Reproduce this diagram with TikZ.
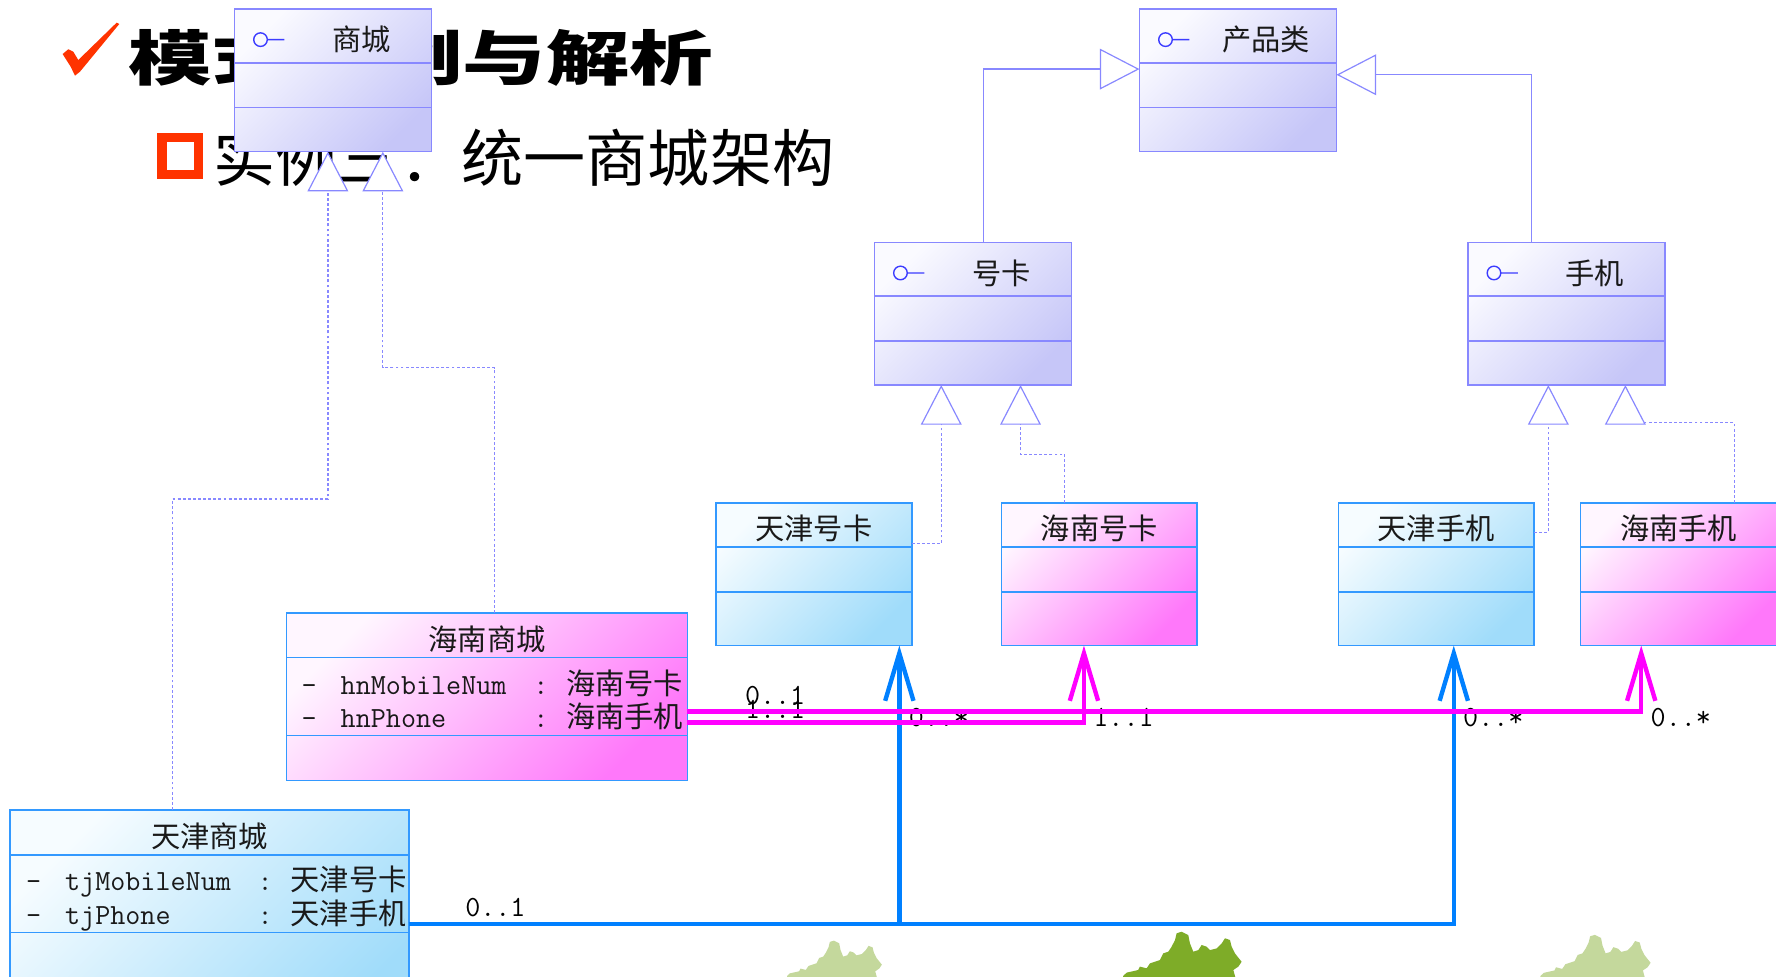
\documentclass[tikz,border=0pt]{standalone}
\usepackage{fontspec}
\newfontfamily\cjk{Noto Sans CJK SC}
\usetikzlibrary{arrows.meta,calc}

\definecolor{ifaceA}{RGB}{250,250,255}
\definecolor{ifaceB}{RGB}{198,198,248}
\definecolor{ifaceLine}{RGB}{136,136,255}
\definecolor{tjA}{RGB}{246,252,255}
\definecolor{tjB}{RGB}{160,220,250}
\definecolor{hnA}{RGB}{255,246,255}
\definecolor{hnB}{RGB}{255,120,250}
\definecolor{clsLine}{RGB}{51,153,255}
\definecolor{hnLink}{RGB}{255,0,255}
\definecolor{tjLink}{RGB}{0,128,255}
\definecolor{markRed}{RGB}{255,51,0}
\definecolor{leafLight}{RGB}{196,216,156}
\definecolor{leafDark}{RGB}{126,172,40}
\definecolor{iconBlue}{RGB}{60,60,255}
\definecolor{ink}{RGB}{25,25,25}

% one attribute line: visibility, name, type in fixed columns
\newcommand\attrrow[3]{\makebox[0.69cm][l]{\ttfamily #1}\makebox[3.4cm][l]{\ttfamily #2}\makebox[0.58cm][l]{\ttfamily :}{\cjk #3}}

\tikzset{
  box/.style={rectangle, inner sep=0pt, outer sep=0pt, anchor=north west, line width=0.75pt},
  iface/.style={box, draw=ifaceLine, top color=ifaceA, bottom color=ifaceB, shading angle=45,
                minimum width=3.48cm, minimum height=2.52cm},
  tjcls/.style={box, draw=clsLine, top color=tjA, bottom color=tjB, shading angle=45,
                minimum width=3.46cm, minimum height=2.52cm},
  hncls/.style={box, draw=clsLine, top color=hnA, bottom color=hnB, shading angle=45,
                minimum width=3.46cm, minimum height=2.52cm},
  hdr/.style={inner sep=0pt, anchor=base, text=ink, font=\cjk\fontsize{14.7}{16}\selectfont},
  attr/.style={inner sep=0pt, anchor=base west, text=ink, font=\cjk\fontsize{14.7}{16}\selectfont},
  lbl/.style={inner sep=0pt, anchor=base west, text=black, font=\ttfamily\fontsize{14.7}{16}\selectfont},
  gen/.style={draw=ifaceLine, line width=0.6pt, -{Triangle[length=0.7cm, width=0.72cm, fill=white]}},
  real/.style={gen, dash pattern=on 0.05cm off 0.04cm},
  assoc/.style={line width=2.2pt, -{Straight Barb[length=0.84cm, width=0.5cm]}},
}

\begin{document}
\begin{tikzpicture}[x=0.02cm, y=-0.02cm]
\useasboundingbox (0,0) rectangle (1568,862);
\fill[white] (0,0) rectangle (1568,862);
\clip (0,0) rectangle (1568,862);

% foliage along the bottom edge
\fill[leafLight, shift={(733.6,862)}, scale=0.8]
  (-48.3,-0.4) -- (-45.3,-3.3) -- (-35.1,-5.6) -- (-33.6,-8.6) -- (-27.7,-7.1) -- (-24.7,-11.5)
  -- (-15.9,-14.4) -- (-13,-20.3) -- (-8.5,-21.8) -- (-5.6,-26.2) -- (-2.6,-32.1) -- (-1.2,-38)
  -- (3.2,-39.4) -- (9.1,-36.5) -- (10.6,-29.1) -- (13.5,-21.8) -- (18,-23.2) -- (20.9,-27.7)
  -- (25.3,-26.2) -- (28.3,-23.2) -- (34.2,-24.7) -- (38.6,-29.1) -- (41.5,-33.6) -- (45.9,-32.1)
  -- (47.4,-26.2) -- (50.3,-20.3) -- (56.2,-12.9) -- (53.3,-8.6) -- (48.9,-5.6) -- (50.3,-0.4)
  -- (55,15) -- (-50,15) -- cycle;
\fill[leafDark, shift={(1040,862)}]
  (-48.3,-0.4) -- (-45.3,-3.3) -- (-35.1,-5.6) -- (-33.6,-8.6) -- (-27.7,-7.1) -- (-24.7,-11.5)
  -- (-15.9,-14.4) -- (-13,-20.3) -- (-8.5,-21.8) -- (-5.6,-26.2) -- (-2.6,-32.1) -- (-1.2,-38)
  -- (3.2,-39.4) -- (9.1,-36.5) -- (10.6,-29.1) -- (13.5,-21.8) -- (18,-23.2) -- (20.9,-27.7)
  -- (25.3,-26.2) -- (28.3,-23.2) -- (34.2,-24.7) -- (38.6,-29.1) -- (41.5,-33.6) -- (45.9,-32.1)
  -- (47.4,-26.2) -- (50.3,-20.3) -- (56.2,-12.9) -- (53.3,-8.6) -- (48.9,-5.6) -- (50.3,-0.4)
  -- (55,15) -- (-50,15) -- cycle;
\fill[leafLight, shift={(1405,862)}, scale=0.93]
  (-48.3,-0.4) -- (-45.3,-3.3) -- (-35.1,-5.6) -- (-33.6,-8.6) -- (-27.7,-7.1) -- (-24.7,-11.5)
  -- (-15.9,-14.4) -- (-13,-20.3) -- (-8.5,-21.8) -- (-5.6,-26.2) -- (-2.6,-32.1) -- (-1.2,-38)
  -- (3.2,-39.4) -- (9.1,-36.5) -- (10.6,-29.1) -- (13.5,-21.8) -- (18,-23.2) -- (20.9,-27.7)
  -- (25.3,-26.2) -- (28.3,-23.2) -- (34.2,-24.7) -- (38.6,-29.1) -- (41.5,-33.6) -- (45.9,-32.1)
  -- (47.4,-26.2) -- (50.3,-20.3) -- (56.2,-12.9) -- (53.3,-8.6) -- (48.9,-5.6) -- (50.3,-0.4)
  -- (55,15) -- (-50,15) -- cycle;

% heading with check mark and hollow square bullet
\fill[markRed] (55.3,47.7) -- (60.3,43.5) -- (64.7,45.6) -- (69.1,53) -- (103,20) -- (105.3,21.2)
  -- (70.6,63.3) -- (66.2,66.8) -- (62.4,58.9) -- cycle;
\node[anchor=base west, inner sep=0pt, text=black, font=\cjk\bfseries\fontsize{30}{32}\selectfont]
  (title) at (113,71) {\scalebox{1.4}[1]{模式实例与解析}};
\draw[markRed, line width=0.16cm] (143,121) rectangle (175,154);
\node[anchor=base west, inner sep=0pt, text=black, font=\cjk\fontsize{31.2}{34}\selectfont]
  (subtitle) at (188,160) {实例三：统一商城架构};

% interface boxes
\node[iface] (mall) at (207,8) {};
\node[iface] (product) at (1006,8) {};
\node[iface] (card) at (772,214) {};
\node[iface] (phone) at (1296,214) {};
\foreach \b in {mall,product,card,phone} {
  \draw[ifaceLine, line width=0.75pt] ($(\b.north west)+(0,47.5)$) -- ($(\b.north east)+(0,47.5)$);
  \draw[ifaceLine, line width=0.75pt] ($(\b.north west)+(0,87)$) -- ($(\b.north east)+(0,87)$);
  \draw[iconBlue, line width=0.7pt] ($(\b.north west)+(23,27)$) circle[radius=0.12cm]
    ($(\b.north west)+(29,27)$) -- ($(\b.north west)+(44,27)$);
}
\node[hdr] (mallT) at ($(mall.north west)+(112,37)$) {商城};
\node[hdr] (productT) at ($(product.north west)+(112,37)$) {产品类};
\node[hdr] (cardT) at ($(card.north west)+(112,37)$) {号卡};
\node[hdr] (phoneT) at ($(phone.north west)+(112,37)$) {手机};

% concrete product classes
\node[tjcls] (tjcard) at (632,444) {};
\node[hncls] (hncard) at (884,444) {};
\node[tjcls] (tjphone) at (1181.5,444) {};
\node[hncls] (hnphone) at (1395.5,444) {};
\foreach \b in {tjcard,hncard,tjphone,hnphone} {
  \draw[clsLine, line width=0.75pt] ($(\b.north west)+(0,39)$) -- ($(\b.north east)+(0,39)$);
  \draw[clsLine, line width=0.75pt] ($(\b.north west)+(0,78.5)$) -- ($(\b.north east)+(0,78.5)$);
}
\node[hdr] (tjcardT) at ($(tjcard.north west)+(86.5,32)$) {天津号卡};
\node[hdr] (hncardT) at ($(hncard.north west)+(86.5,32)$) {海南号卡};
\node[hdr] (tjphoneT) at ($(tjphone.north west)+(86.5,32)$) {天津手机};
\node[hdr] (hnphoneT) at ($(hnphone.north west)+(86.5,32)$) {海南手机};

% concrete malls
\node[hncls, minimum width=7.08cm, minimum height=2.96cm] (hnmall) at (253,541) {};
\draw[clsLine, line width=0.75pt] ($(hnmall.north west)+(0,39.6)$) -- ($(hnmall.north east)+(0,39.6)$);
\draw[clsLine, line width=0.75pt] ($(hnmall.north west)+(0,108.5)$) -- ($(hnmall.north east)+(0,108.5)$);
\node[hdr] (hnmallT) at ($(hnmall.north west)+(177,33)$) {海南商城};
\node[attr] (hnA1) at ($(hnmall.north west)+(13,72)$) {\attrrow{-}{hnMobileNum}{海南号卡}};
\node[attr] (hnA2) at ($(hnmall.north west)+(13,101)$) {\attrrow{-}{hnPhone}{海南手机}};

\node[tjcls, minimum width=7.04cm, minimum height=4cm] (tjmall) at (9,715) {};
\draw[clsLine, line width=0.75pt] ($(tjmall.north west)+(0,40)$) -- ($(tjmall.north east)+(0,40)$);
\draw[clsLine, line width=0.75pt] ($(tjmall.north west)+(0,108.4)$) -- ($(tjmall.north east)+(0,108.4)$);
\node[hdr] (tjmallT) at ($(tjmall.north west)+(176,33)$) {天津商城};
\begin{scope}
  \clip (tjmall.north west) rectangle ($(tjmall.north east)+(-4,108)$);
  \node[attr] (tjA1) at ($(tjmall.north west)+(13.7,71)$) {\attrrow{-}{tjMobileNum}{天津号卡}};
  \node[attr] (tjA2) at ($(tjmall.north west)+(13.7,101)$) {\attrrow{-}{tjPhone}{天津手机}};
\end{scope}

% multiplicities
\node[lbl] (m1) at ($(hnmall.north east)+(50.5,81)$) {0..1};
\node[lbl] (m2) at ($(hnmall.north east)+(50.5,93)$) {1..1};
\node[lbl] (m3) at ($(hncard.south west)+(81,71.5)$) {1..1};
\node[lbl] (m4) at ($(hnphone.south west)+(61.5,71.5)$) {0..*};
\node[lbl] (t1) at ($(tjmall.north east)+(49.5,94)$) {0..1};
\node[lbl] (t2) at ($(tjcard.south west)+(170,71.5)$) {0..*};
\node[lbl] (t3) at ($(tjphone.south west)+(110,71.5)$) {0..*};

% generalisation and realisation
\draw[gen] ($(card.north west)+(96,0)$) |- ($(product.north west)+(0,53)$);
\draw[gen] ($(phone.north west)+(56,0)$) |- ($(product.north east)+(0,58)$);
\draw[real] ($(tjcard.north east)+(0,36)$) -| ($(card.south west)+(59,0)$);
\draw[real] ($(hncard.north west)+(56,0)$) |- ($(card.south west)+(129,61)$) -- ($(card.south west)+(129,0)$);
\draw[real] ($(tjphone.north east)+(0,26)$) -| ($(phone.south west)+(71,0)$);
\draw[real] ($(hnphone.north west)+(135.5,0)$) |- ($(phone.south west)+(139,33)$) -- ($(phone.south west)+(139,0)$);
\draw[real] ($(tjmall.north west)+(143.4,0)$) |- ($(mall.south west)+(82.5,306.6)$) -- ($(mall.south west)+(82.5,0)$);
\draw[real] ($(hnmall.north west)+(183.7,0)$) |- ($(mall.south west)+(131,190.6)$) -- ($(mall.south west)+(131,0)$);

% associations
\draw[assoc, tjLink] ($(tjmall.north east)+(0,100.5)$) -| ($(tjcard.south west)+(162,0)$);
\draw[assoc, tjLink] ($(tjmall.north east)+(0,100.5)$) -| ($(tjphone.south west)+(102,0)$);
\draw[assoc, hnLink] ($(hnmall.north east)+(0,87)$) -| ($(hnphone.south west)+(53.5,0)$);
\draw[assoc, hnLink] ($(hnmall.north east)+(0,97)$) -| ($(hncard.south west)+(73,0)$);
\end{tikzpicture}
\end{document}
